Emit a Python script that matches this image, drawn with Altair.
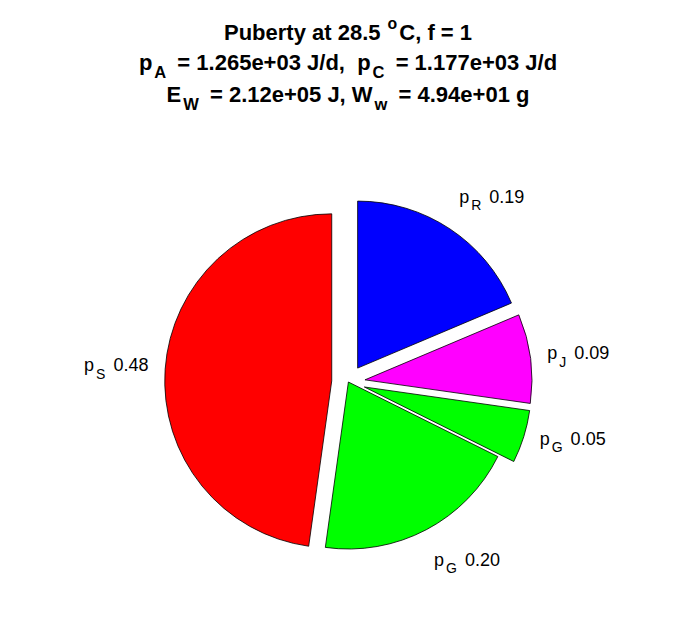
import altair as alt
import pandas as pd

# ---------------- data ----------------
slice_ids = ["R", "J", "G1", "G2", "S"]
sub_letters = ["R", "J", "G", "G", "S"]
fractions = [0.186, 0.086, 0.051, 0.198, 0.477]
exploded = [1, 1, 1, 0, 1]

title_lines = [
    [("Puberty at 28.5 ", "n"), ("o", "sup"), ("C, f = 1", "n")],
    [("p", "n"), ("A", "sub"), (" = 1.265e+03 J/d,\u00a0 p", "n"), ("C", "sub"),
     (" = 1.177e+03 J/d", "n")],
    [("E", "n"), ("W", "sub"), (" = 2.12e+05 J, W", "n"), ("w", "sub"),
     (" = 4.94e+01 g", "n")],
]

# ---------------- layout / style ----------------
W, H = 680, 600
CX, CY = 340.4, 374.0
R = 167
EXPL = 0.1 * R
LAB_R = 1.1 * R
FONT = "Liberation Sans"
LAB_SIZE = 18
LAB_SUB = 14
TITLE_SIZE = 22
TITLE_CX = 340
TITLE_BASE = [31.5, 62.0, 93.7]
colors = ["#0000ff", "#ff00ff", "#00ff00", "#00ff00", "#ff0000"]

REG = {" ": 278, "\u00a0": 278, ".": 278, "p": 556, "R": 722, "J": 500,
       "G": 778, "S": 667}
for d in "0123456789":
    REG[d] = 556
BOLD = {" ": 278, "\u00a0": 278, ".": 278, ",": 278, "+": 584, "=": 584,
        "/": 278, "e": 556, "p": 611, "J": 556, "d": 611, "g": 611, "f": 333,
        "C": 722, "A": 722, "E": 667, "W": 944, "w": 778, "P": 667, "u": 611,
        "b": 611, "r": 389, "t": 333, "y": 556, "a": 556, "o": 611}
for d in "0123456789":
    BOLD[d] = 556


def tw(s, size, bold=False):
    table = BOLD if bold else REG
    return sum(table.get(c, 556) for c in s) / 1000.0 * size


# label piece offsets (text metrics)
off_sub, off_val, wtot = [], [], []
for letter, v in zip(sub_letters, fractions):
    o1 = tw("p", LAB_SIZE) + 2
    o2 = o1 + tw(letter, LAB_SUB) + tw(" ", LAB_SIZE) + 3
    off_sub.append(o1)
    off_val.append(o2)
    wtot.append(o2 + tw(f"{v:.2f}", LAB_SIZE))

df = pd.DataFrame({
    "id": slice_ids, "sub": sub_letters, "frac": fractions,
    "explode": exploded, "order": list(range(len(slice_ids))),
    "off_sub": off_sub, "off_val": off_val, "wtot": wtot,
})

# title pieces (sub/superscripts get a little extra spacing, as TeX does)
rows = []
for line, base_y in zip(title_lines, TITLE_BASE):
    segs = []
    for s, kind in line:
        if kind == "n":
            segs.append((s, TITLE_SIZE, 0, 0, 0))
        elif kind == "sub":
            segs.append((s, TITLE_SIZE * 0.75, 8, 2, 5))
        else:
            segs.append((s, TITLE_SIZE * 0.72, -11, 1, 2))
    total = sum(tw(s, size, True) + pre + post for s, size, dy, pre, post in segs)
    x = TITLE_CX - total / 2
    for s, size, dy, pre, post in segs:
        x += pre
        lead = len(s) - len(s.lstrip(" "))
        rows.append({"t": s.strip(" "), "x": x + tw(" " * lead, size, True),
                     "y": base_y + dy, "s": size})
        x += tw(s, size, True) + post
title_df = pd.DataFrame(rows)

xs = alt.Scale(domain=[0, W], nice=False, zero=False)
ys = alt.Scale(domain=[0, H], nice=False, zero=False, reverse=True)


def X(f):
    return alt.X(f"{f}:Q", scale=xs, axis=None)


def Y(f):
    return alt.Y(f"{f}:Q", scale=ys, axis=None)


base = (
    alt.Chart(df)
    .transform_joinaggregate(total="sum(frac)")
    .transform_window(cum="sum(frac)", sort=[alt.SortField("order")], frame=[None, 0])
    .transform_calculate(t1="2*PI*datum.cum/datum.total")
    .transform_calculate(t0="2*PI*(datum.cum-datum.frac)/datum.total")
    .transform_calculate(mid="(datum.t0+datum.t1)/2")
    .transform_calculate(cx=f"{CX}+datum.explode*{EXPL}*sin(datum.mid)")
    .transform_calculate(cy=f"{CY}-datum.explode*{EXPL}*cos(datum.mid)")
    .transform_calculate(ax=f"datum.cx+{LAB_R}*sin(datum.mid)")
    .transform_calculate(ay=f"datum.cy-{LAB_R}*cos(datum.mid)")
    .transform_calculate(lx="datum.ax - (sin(datum.mid)<0 ? datum.wtot : 0)")
    .transform_calculate(
        by="datum.ay + (cos(datum.mid)>0.5 ? -12 : (cos(datum.mid)<-0.5 ? 21 : 3))")
    .transform_calculate(sx="datum.lx+datum.off_sub")
    .transform_calculate(vx="datum.lx+datum.off_val")
    .transform_calculate(sy="datum.by+7.5")
)

arcs = base.mark_arc(radius=R, stroke="black", strokeWidth=0.8).encode(
    x=X("cx"), y=Y("cy"),
    theta=alt.Theta("t0:Q", scale=None, stack=False),
    theta2=alt.Theta2("t1"),
    color=alt.Color("id:N", scale=alt.Scale(domain=slice_ids, range=colors), legend=None),
)

lab_p = base.mark_text(align="left", baseline="alphabetic", font=FONT,
                       fontSize=LAB_SIZE, color="black").encode(
    x=X("lx"), y=Y("by"), text=alt.value("p"))
lab_s = base.mark_text(align="left", baseline="alphabetic", font=FONT,
                       fontSize=LAB_SUB, color="black").encode(
    x=X("sx"), y=Y("sy"), text=alt.Text("sub:N"))
lab_v = base.mark_text(align="left", baseline="alphabetic", font=FONT,
                       fontSize=LAB_SIZE, color="black").encode(
    x=X("vx"), y=Y("by"), text=alt.Text("frac:Q", format=".2f"))

title = alt.Chart(title_df).mark_text(
    align="left", baseline="alphabetic", font=FONT, fontWeight="bold", color="black"
).encode(x=X("x"), y=Y("y"), text=alt.Text("t:N"), size=alt.Size("s:Q", scale=None))

chart = (
    alt.layer(arcs, lab_p, lab_s, lab_v, title)
    .properties(width=W, height=H, padding=0, background="white")
    .configure_view(stroke=None)
)

chart.save("out.html", embed_options={"renderer": "svg", "actions": False})
